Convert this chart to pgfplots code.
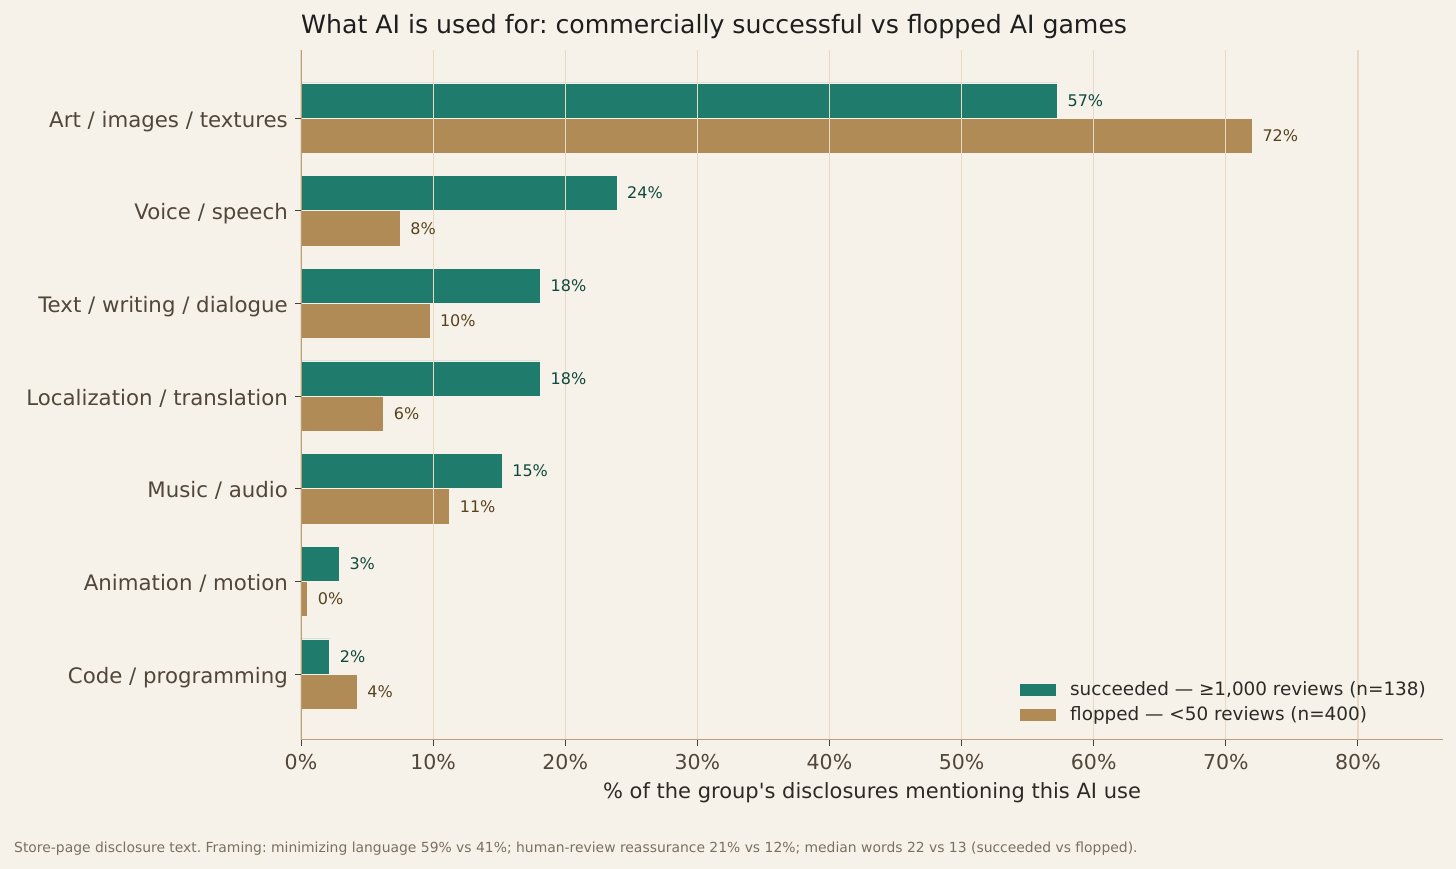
\documentclass[border=0pt]{standalone}
\usepackage{fontspec}
\setmainfont{DejaVu Sans}
\usepackage{pgfplots}
\pgfplotsset{compat=1.18}
\frenchspacing
\definecolor{bg}{RGB}{247,242,233}
\definecolor{teal1}{RGB}{31,123,108}
\definecolor{tan1}{RGB}{176,139,85}
\definecolor{gridc}{RGB}{231,217,195}
\definecolor{spine}{RGB}{185,160,120}
\definecolor{tickc}{RGB}{75,65,55}
\definecolor{labc}{RGB}{80,70,58}
\definecolor{tealtxt}{RGB}{14,72,62}
\definecolor{tantxt}{RGB}{88,66,30}
\definecolor{notec}{RGB}{122,112,96}
\definecolor{legc}{RGB}{45,42,38}
\definecolor{titc}{RGB}{30,30,30}
\begin{document}
\begin{tikzpicture}
\fill[bg] (0,0) rectangle (1456bp,869bp);
\begin{axis}[
  at={(301bp,129bp)}, anchor=south west,
  scale only axis, width=1142bp, height=690bp,
  xmin=0, xmax=86.44, ymin=-0.712, ymax=6.734,
  xbar, bar width=0.38,
  axis x line*=bottom, axis y line*=left,
  axis line style={draw=spine, line width=1bp},
  axis on top, clip=false,
  xmajorgrids, major grid style={draw=gridc, line width=1.1bp},
  xtick={0,10,...,80},
  xticklabels={0\%,10\%,20\%,30\%,40\%,50\%,60\%,70\%,80\%},
  ytick={0,...,6},
  yticklabels={Code / programming, Animation / motion, Music / audio, Localization / translation, Text / writing / dialogue, Voice / speech, Art / images / textures},
  tick align=outside, major tick length=6bp,
  tick style={draw=tickc, line width=1bp},
  xticklabel style={anchor=base, inner sep=0pt, yshift=-24bp, font=\fontsize{20.5bp}{24bp}\selectfont, text=labc},
  yticklabel style={anchor=base east, inner sep=0pt, xshift=-7bp, yshift=-9.3bp, font=\fontsize{21.3bp}{25bp}\selectfont, text=labc},
  title={What AI is used for: commercially successful vs flopped AI games},
  title style={at={(axis description cs:0,1)}, anchor=base west, yshift=11bp, inner sep=0pt, font=\fontsize{25.2bp}{30bp}\selectfont, text=titc},
  xlabel={\% of the group\textquotesingle s disclosures mentioning this AI use},
  xlabel style={at={(axis description cs:0.5,0)}, anchor=base, yshift=-59bp, inner sep=0pt, font=\fontsize{21bp}{25bp}\selectfont, text=legc},
  nodes near coords, point meta=explicit symbolic,
  nodes near coords align={horizontal},
  every node near coord/.append style={anchor=west, inner sep=0pt, xshift=10bp, font=\fontsize{16bp}{19bp}\selectfont},
  legend style={draw=none, fill=none, inner sep=0pt, at={(axis description cs:1,0)}, anchor=south east, xshift=-17bp, yshift=15bp, font=\fontsize{18.4bp}{21bp}\selectfont, text=legc, row sep=8bp, nodes={inner sep=0pt, text height=13bp, text depth=4bp}, /tikz/every odd column/.append style={column sep=14bp}},
  legend cell align=left,
  legend image code/.code={\fill[#1] (0bp,-5bp) rectangle (37bp,8bp);},
]
\addplot[fill=teal1, draw=bg, line width=0.5bp, bar shift=0.19, every node near coord/.append style={text=tealtxt}] coordinates {
  (57.25,6) [57\%]
  (23.91,5) [24\%]
  (18.12,4) [18\%]
  (18.12,3) [18\%]
  (15.22,2) [15\%]
  (2.90,1) [3\%]
  (2.17,0) [2\%]
};
\addlegendentry{succeeded — ≥1,000 reviews (n=138)}
\addplot[fill=tan1, draw=bg, line width=0.5bp, bar shift=-0.19, every node near coord/.append style={text=tantxt}] coordinates {
  (72.00,6) [72\%]
  (7.50,5) [8\%]
  (9.75,4) [10\%]
  (6.25,3) [6\%]
  (11.25,2) [11\%]
  (0.50,1) [0\%]
  (4.25,0) [4\%]
};
\addlegendentry{flopped — <50 reviews (n=400)}
\end{axis}
\node[anchor=base west, inner sep=0pt, font=\fontsize{13.9bp}{16bp}\selectfont, text=notec] at (14bp,17bp) {Store-page disclosure text. Framing: minimizing language 59\% vs 41\%; human-review reassurance 21\% vs 12\%; median words 22 vs 13 (succeeded vs flopped).};
\end{tikzpicture}
\end{document}
